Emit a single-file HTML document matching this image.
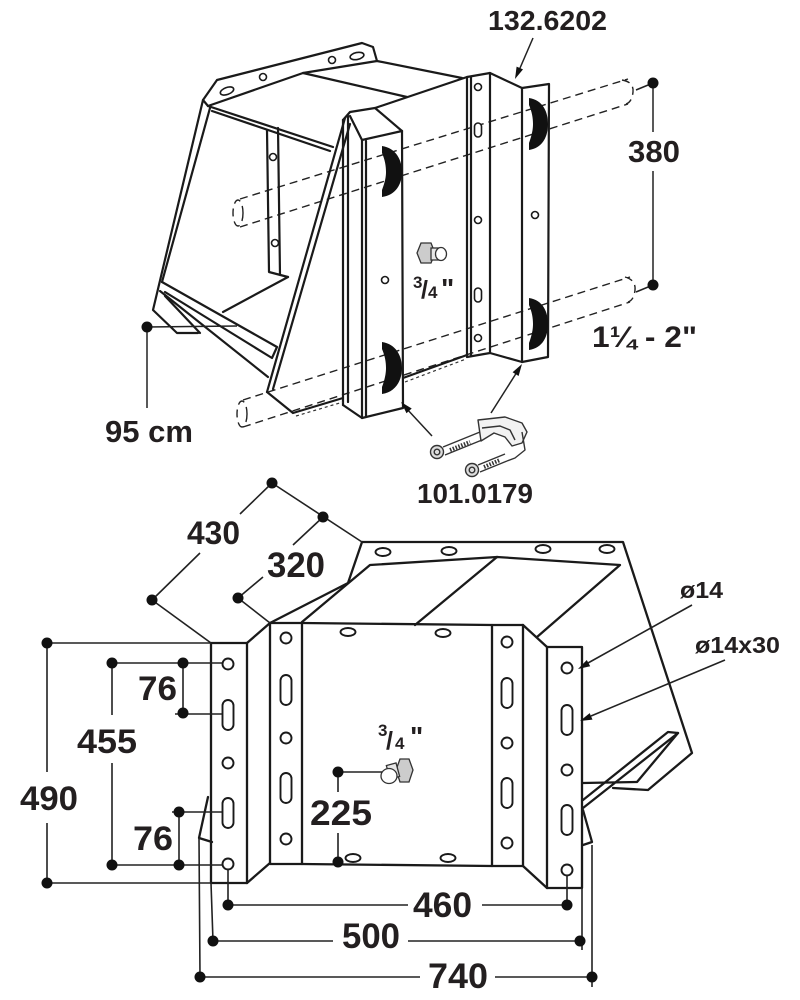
<!DOCTYPE html>
<html><head><meta charset="utf-8"><style>
html,body{margin:0;padding:0;background:#fff;}
svg{display:block;}
text{font-family:"Liberation Sans",Arial,sans-serif;font-weight:bold;fill:#231f20;}
</style></head><body>
<svg width="800" height="1000" viewBox="0 0 800 1000" xmlns="http://www.w3.org/2000/svg">
<rect width="800" height="1000" fill="#fff"/>

<!-- ================= TOP DRAWING ================= -->
<!-- dashed pipes -->
<g fill="none" stroke="#222" stroke-width="1.4" stroke-dasharray="8 5">
  <path d="M240,199 L628,79"/>
  <path d="M240,227 L628,104"/>
  <ellipse cx="238" cy="213" rx="5" ry="13"/>
  <path d="M622,80 Q634,82 633,92 Q632,102 626,104"/>
  <path d="M243,400 L630,277"/>
  <path d="M243,427 L630,302"/>
  <ellipse cx="242" cy="414" rx="5" ry="13"/>
  <path d="M625,277 Q636,280 635,290 Q634,300 628,302"/>
</g>

<g fill="none" stroke="#1a1a1a" stroke-width="2.2" stroke-linejoin="round" stroke-linecap="round">
  <!-- flange -->
  <path d="M208,106 L203,100 L217,80 L362,43 L373,47 L377,61"/>
  <path d="M208,106 L303,73 L377,61 L462,78"/>
  <path d="M303,73 L407,97"/>
  <path d="M375,108 L467,77"/>
  <path d="M208,106 L333,147 M212,111 L330,151"/>
  <!-- left leg -->
  <path d="M203,100 L153,310 L177,333 L198,333"/>
  <path d="M210,108 L162,282"/>
  <!-- tray bottom -->
  <path d="M162,282 L277,347 L272,358 L165,292"/>
  <path d="M160,291 L268,377"/>
  <path d="M165,296 L200,333"/>
  <path d="M223,312 L288,277"/>
  <!-- interior bar -->
  <path d="M267,130 L269,272 L288,277 M278,128 L280,275"/>
  <!-- front diagonal plate -->
  <path d="M345,118 L267,392 M350,124 L273,389"/>
  <path d="M267,392 L293,413 L343,398"/>
  <path d="M343,120 L343,405 M348,116 L348,402"/>
  <!-- front channel -->
  <path d="M362,140 L402,131 L403,408 L362,418 Z"/>
  <path d="M366,141 L366,417"/>
  <path d="M343,120 L350,112 L375,108 L402,131"/>
  <path d="M350,116 L362,140"/>
  <path d="M343,405 L362,418"/>
  <!-- box right face bottom -->
  <path d="M403,378 L467,355"/>
  <!-- right channels -->
  <path d="M467,77 L490,73 L490,353 L467,357 Z"/>
  <path d="M471,77 L471,356"/>
  <path d="M490,73 L522,88 L549,84 L548,357 L522,362 L490,353"/>
  <path d="M522,88 L522,362"/>
</g>
<!-- weld ticks -->
<g fill="none" stroke="#333" stroke-width="1.2" stroke-dasharray="3 3">
  <path d="M296,416 L343,402"/>
  <path d="M405,382 L466,359"/>
</g>

<!-- top holes -->
<g fill="#fff" stroke="#1a1a1a" stroke-width="1.6">
  <ellipse cx="227" cy="91" rx="7" ry="3.5" transform="rotate(-20 227 91)"/>
  <circle cx="263" cy="77" r="3.5"/>
  <circle cx="332" cy="60" r="3.5"/>
  <ellipse cx="357" cy="56" rx="7" ry="3.5" transform="rotate(-12 357 56)"/>
  <circle cx="273" cy="157" r="3.5"/>
  <circle cx="275" cy="243" r="3.5"/>
  <circle cx="478" cy="87" r="3.5"/>
  <rect x="474.5" y="123" width="7" height="14" rx="3.5"/>
  <circle cx="478" cy="220" r="3.5"/>
  <rect x="474.5" y="288" width="7" height="14" rx="3.5"/>
  <circle cx="478" cy="338" r="3.5"/>
  <circle cx="535" cy="215" r="3.5"/>
  <circle cx="385" cy="280" r="3.5"/>
</g>
<!-- half moons -->
<g fill="#111" stroke="none">
  <path d="M382,146 C396,148 402,160 402,172 C402,184 396,195 382,197 L382,190 C385,182 386,177 386,172 C386,166 385,160 382,153 Z"/>
  <path d="M382,342 C396,344 402,356 402,368 C402,380 396,392 382,394 L382,387 C385,379 386,373 386,368 C386,362 385,356 382,349 Z"/>
  <path d="M529,98 C543,100 548,112 548,124 C548,136 543,148 529,150 L529,143 C532,135 533,129 533,124 C533,118 532,112 529,105 Z"/>
  <path d="M529,298 C543,300 548,312 548,324 C548,336 543,348 529,350 L529,343 C532,335 533,329 533,324 C533,318 532,312 529,305 Z"/>
</g>

<!-- top bolt -->
<g stroke="#333" stroke-width="1.3">
  <polygon points="421,243 431,243 435,253 431,263 421,263 417,253" fill="#ccc"/>
  <rect x="431" y="248" width="9" height="12" fill="#e6e6e6"/>
  <ellipse cx="441" cy="254" rx="5.5" ry="6.5" fill="#fff"/>
</g>

<!-- clamp -->
<g fill="none" stroke="#333" stroke-width="1.4" stroke-linejoin="round">
  <path d="M478,420 L505,417 L522,423 L527,432 L522,443 L512,446 L505,437 L494,433 L481,441 Z" fill="#f2f2f2"/>
  <path d="M482,428 L500,426 L510,430 L515,440"/>
  <path d="M522,432 L525,450 L515,458 L507,461"/>
  <path d="M443,447 L480,432 M445,455 L482,440"/>
  <path d="M478,465 L505,454 M480,472 L507,461"/>
  <path d="M450,450 L470,442 M484,467 L500,460" stroke-dasharray="1.5 1.5" stroke-width="4"/>
  <circle cx="437" cy="452" r="6.5" fill="#ddd"/>
  <circle cx="437" cy="452" r="2.8"/>
  <circle cx="472" cy="470" r="6.5" fill="#ddd"/>
  <circle cx="472" cy="470" r="2.8"/>
</g>

<!-- top leader lines & dims -->
<g fill="none" stroke="#222" stroke-width="1.5">
  <path d="M533,38 L517,75"/>
  <path d="M432,436 L406,408"/>
  <path d="M491,413 L517,372"/>
  <path d="M636,90 L653,83 M636,292 L653,285"/>
  <path d="M653,83 L653,132 M653,171 L653,285"/>
  <path d="M147,327 L237,326 M147,327 L147,408"/>
</g>
<g fill="#111">
  <polygon points="515,79 516.6,66.6 523,69.4"/>
  <polygon points="401,402 411.7,408.5 406.5,413.3"/>
  <polygon points="522,364 518.6,376 512.6,372.2"/>
  <circle cx="653" cy="83" r="5.5"/>
  <circle cx="653" cy="285" r="5.5"/>
  <circle cx="147" cy="327" r="5.5"/>
</g>

<!-- top texts -->
<text x="488" y="30" font-size="28" textLength="119" lengthAdjust="spacingAndGlyphs">132.6202</text>
<text x="628" y="162" font-size="31" textLength="52" lengthAdjust="spacingAndGlyphs">380</text>
<text x="592" y="347" font-size="30" textLength="105" lengthAdjust="spacingAndGlyphs">1¼ - 2&quot;</text>
<text x="105" y="442" font-size="31" textLength="88" lengthAdjust="spacingAndGlyphs">95 cm</text>
<text x="417" y="503" font-size="28" textLength="116" lengthAdjust="spacingAndGlyphs">101.0179</text>
<text x="413" y="288" font-size="17">3</text>
<text x="421" y="298" font-size="25">/</text>
<text x="428" y="298" font-size="17">4</text>
<text x="441" y="298" font-size="28">&quot;</text>

<!-- ================= BOTTOM DRAWING ================= -->
<g fill="none" stroke="#1a1a1a" stroke-width="2.3" stroke-linejoin="round" stroke-linecap="round">
  <path d="M211,643 L247,643 L247,883 L211,883 Z"/>
  <path d="M247,643 L270,623 M247,883 L270,863"/>
  <path d="M270,623 L302,623 L302,864 L270,864 Z"/>
  <path d="M302,623 L492,625 M302,864 L492,866"/>
  <path d="M492,625 L523,625 L523,866 L492,866 Z"/>
  <path d="M523,625 L547,647 M523,866 L547,888"/>
  <path d="M547,647 L582,647 L582,888 L547,888 Z"/>
  <!-- flange -->
  <path d="M362,542 L623,542 L692,753 L648,790 L613,788"/>
  <path d="M362,542 L348,583 L270,623"/>
  <path d="M302,622 L370,565 L497,557 L620,565 L537,637"/>
  <path d="M497,557 L415,625"/>
  <!-- tails -->
  <path d="M583,800 L668,732 L678,733 L583,808"/>
  <path d="M678,733 L637,782 L583,783"/>
  <path d="M583,810 L592,842 L583,845"/>
  <path d="M208,797 L199,838 L212,842"/>
</g>

<!-- bottom holes -->
<g fill="#fff" stroke="#1a1a1a" stroke-width="1.9">
  <ellipse cx="383" cy="552" rx="7.5" ry="4"/>
  <ellipse cx="449" cy="551" rx="7.5" ry="4"/>
  <ellipse cx="543" cy="549" rx="7.5" ry="4"/>
  <ellipse cx="607" cy="549" rx="7.5" ry="4"/>
  <ellipse cx="348" cy="632" rx="7.5" ry="4"/>
  <ellipse cx="443" cy="633" rx="7.5" ry="4"/>
  <ellipse cx="353" cy="858" rx="7.5" ry="4"/>
  <ellipse cx="448" cy="858" rx="7.5" ry="4"/>

  <circle cx="228" cy="664" r="5.5"/>
  <rect x="222.5" y="700" width="11" height="30" rx="5.5"/>
  <circle cx="228" cy="763" r="5.5"/>
  <rect x="222.5" y="798" width="11" height="30" rx="5.5"/>
  <circle cx="228" cy="864" r="5.5"/>

  <circle cx="286" cy="638" r="5.5"/>
  <rect x="280.5" y="675" width="11" height="30" rx="5.5"/>
  <circle cx="286" cy="738" r="5.5"/>
  <rect x="280.5" y="773" width="11" height="30" rx="5.5"/>
  <circle cx="286" cy="839" r="5.5"/>

  <circle cx="507" cy="642" r="5.5"/>
  <rect x="501.5" y="678" width="11" height="30" rx="5.5"/>
  <circle cx="507" cy="743" r="5.5"/>
  <rect x="501.5" y="778" width="11" height="30" rx="5.5"/>
  <circle cx="507" cy="843" r="5.5"/>

  <circle cx="567" cy="668" r="5.5"/>
  <rect x="561.5" y="705" width="11" height="30" rx="5.5"/>
  <circle cx="567" cy="770" r="5.5"/>
  <rect x="561.5" y="805" width="11" height="30" rx="5.5"/>
  <circle cx="567" cy="870" r="5.5"/>
</g>

<!-- bottom bolt -->
<g stroke="#333" stroke-width="1.3">
  <polygon points="400,759 409,759 413,770 409,782 400,782 396,770" fill="#ccc"/>
  <rect x="388" y="764" width="10" height="14" fill="#e6e6e6" transform="rotate(-15 393 771)"/>
  <ellipse cx="389" cy="776" rx="8" ry="7.5" fill="#fff"/>
</g>

<!-- bottom dimension lines -->
<g fill="none" stroke="#222" stroke-width="1.6">
  <path d="M152,600 L200,553 M240,514 L272,483"/>
  <path d="M152,600 L211,643"/>
  <path d="M272,483 L362,542"/>
  <path d="M238,598 L263,577 M293,545 L323,517"/>
  <path d="M238,598 L270,623"/>
  <path d="M47,643 L211,643 M47,883 L211,883"/>
  <path d="M47,643 L47,772 M47,823 L47,883"/>
  <path d="M112,663 L222,663 M112,865 L222,865"/>
  <path d="M112,663 L112,715 M112,763 L112,865"/>
  <path d="M183,663 L183,713 M175,714 L222,714"/>
  <path d="M172,812 L222,812 M179,812 L179,865"/>
  <path d="M338,772 L382,772 M338,772 L338,792 M338,833 L338,862"/>
  <path d="M228,869 L228,905 M228,905 L408,905 M482,905 L567,905 M567,875 L567,905"/>
  <path d="M211,883 L213,941 M213,941 L333,941 M408,941 L580,941 M582,888 L582,950"/>
  <path d="M199,838 L200,977 M200,977 L420,977 M495,977 L592,977 M592,845 L592,987"/>
  <path d="M692,605 L588,663"/>
  <path d="M725,660 L591,716"/>
</g>
<g fill="#111">
  <polygon points="578,669 586.8,660 590.2,666.2"/>
  <polygon points="580,721 589.7,713.1 592.5,719.6"/>
  <circle cx="272" cy="483" r="5.5"/>
  <circle cx="323" cy="517" r="5.5"/>
  <circle cx="152" cy="600" r="5.5"/>
  <circle cx="238" cy="598" r="5.5"/>
  <circle cx="47" cy="643" r="5.5"/>
  <circle cx="47" cy="883" r="5.5"/>
  <circle cx="112" cy="663" r="5.5"/>
  <circle cx="112" cy="865" r="5.5"/>
  <circle cx="183" cy="663" r="5.5"/>
  <circle cx="183" cy="713" r="5.5"/>
  <circle cx="179" cy="812" r="5.5"/>
  <circle cx="179" cy="865" r="5.5"/>
  <circle cx="338" cy="772" r="5.5"/>
  <circle cx="338" cy="862" r="5.5"/>
  <circle cx="228" cy="905" r="5.5"/>
  <circle cx="567" cy="905" r="5.5"/>
  <circle cx="213" cy="941" r="5.5"/>
  <circle cx="580" cy="941" r="5.5"/>
  <circle cx="200" cy="977" r="5.5"/>
  <circle cx="592" cy="977" r="5.5"/>
</g>

<!-- bottom texts -->
<text x="187" y="544" font-size="32" textLength="53" lengthAdjust="spacingAndGlyphs">430</text>
<text x="267" y="577" font-size="35" textLength="58" lengthAdjust="spacingAndGlyphs">320</text>
<text x="138" y="700" font-size="34" textLength="39" lengthAdjust="spacingAndGlyphs">76</text>
<text x="77" y="753" font-size="34" textLength="60" lengthAdjust="spacingAndGlyphs">455</text>
<text x="20" y="810" font-size="34" textLength="58" lengthAdjust="spacingAndGlyphs">490</text>
<text x="133" y="850" font-size="34" textLength="40" lengthAdjust="spacingAndGlyphs">76</text>
<text x="310" y="825" font-size="35" textLength="62" lengthAdjust="spacingAndGlyphs">225</text>
<text x="413" y="917" font-size="35" textLength="59" lengthAdjust="spacingAndGlyphs">460</text>
<text x="342" y="948" font-size="35" textLength="58" lengthAdjust="spacingAndGlyphs">500</text>
<text x="428" y="988" font-size="35" textLength="60" lengthAdjust="spacingAndGlyphs">740</text>
<text x="680" y="598" font-size="23" textLength="43" lengthAdjust="spacingAndGlyphs">ø14</text>
<text x="695" y="653" font-size="23" textLength="85" lengthAdjust="spacingAndGlyphs">ø14x30</text>
<text x="378" y="736" font-size="17">3</text>
<text x="386" y="749" font-size="25">/</text>
<text x="395" y="749" font-size="17">4</text>
<text x="410" y="746" font-size="28">&quot;</text>
</svg>
</body></html>
